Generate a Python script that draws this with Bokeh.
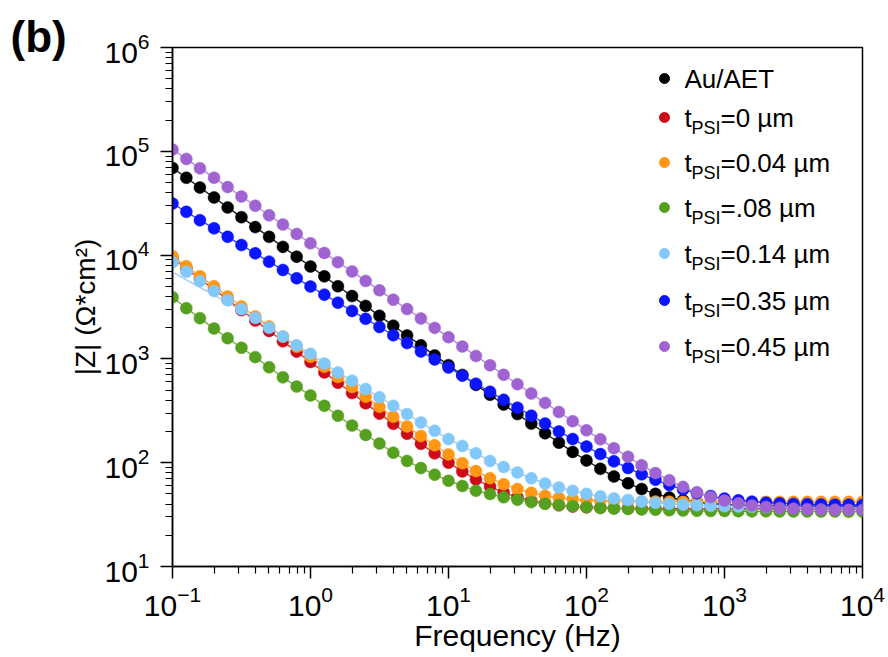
import math
from bokeh.plotting import figure
from bokeh.models import FixedTicker, LogTickFormatter, Label
from bokeh.embed import file_html
from bokeh.resources import INLINE

# ---------------- data ----------------
freq = [0.1, 0.126, 0.158, 0.2, 0.251, 0.316, 0.398, 0.501, 0.631, 0.794,
        1.0, 1.26, 1.58, 2.0, 2.51, 3.16, 3.98, 5.01, 6.31, 7.94,
        10.0, 12.6, 15.8, 20.0, 25.1, 31.6, 39.8, 50.1, 63.1, 79.4,
        100.0, 126.0, 158.0, 200.0, 251.0, 316.0, 398.0, 501.0, 631.0, 794.0,
        1000.0, 1260.0, 1580.0, 2000.0, 2510.0, 3160.0, 3980.0, 5010.0, 6310.0, 7940.0,
        10000.0]

z_au_aet = [69200, 55600, 44700, 35900, 28800, 23200, 18600, 15000, 12000, 9660,
            7760, 6240, 5010, 4030, 3240, 2600, 2090, 1680, 1350, 1080,
            871, 700, 562, 452, 363, 294, 238, 192, 156, 127,
            105, 87.3, 73.6, 63.4, 55.7, 50.1, 46.2, 43.5, 41.6, 40.4,
            39.5, 39.0, 38.7, 38.4, 38.3, 38.2, 38.1, 38.0, 38.0, 38.0, 38.0]

z_t000 = [9330, 7410, 5890, 4680, 3720, 2950, 2340, 1860, 1480, 1175,
          933, 741, 589, 469, 373, 297, 237, 190, 152, 123,
          100, 82.4, 69.0, 58.9, 51.6, 46.6, 43.0, 40.6, 38.9, 37.8,
          37.2, 36.8, 36.5, 36.3, 36.2, 36.1, 36.0, 36.0, 36.0, 36.0,
          36.0, 36.0, 36.0, 36.0, 36.0, 36.0, 36.0, 36.0, 36.0, 36.0, 36.0]

z_t004 = [9770, 7820, 6250, 5000, 4000, 3200, 2560, 2050, 1640, 1310,
          1047, 838, 670, 537, 431, 345, 277, 223, 181, 147,
          120, 99, 83, 71, 62, 55.7, 51.3, 48.1, 46.0, 44.6,
          43.7, 43.1, 42.7, 42.4, 42.3, 42.2, 42.1, 42.0, 42.0, 42.0,
          42.0, 42.0, 42.0, 42.0, 42.0, 42.0, 42.0, 42.0, 42.0, 42.0, 42.0]

z_t008 = [3930, 3080, 2470, 1960, 1585, 1280, 1040, 832, 664, 541,
          444, 353, 283, 228, 185, 153, 125, 104, 88.7, 76.7,
          67.0, 59.7, 53.7, 49.9, 46.5, 43.9, 41.7, 40.2, 39.2, 38.1,
          37.3, 36.7, 36.2, 35.8, 35.5, 35.2, 34.8, 34.6, 34.4, 34.3,
          34.2, 34.1, 34.0, 34.0, 33.9, 33.9, 33.8, 33.8, 33.8, 33.7, 33.7]

z_t014 = [8510, 6920, 5600, 4520, 3680, 3010, 2480, 1995, 1640, 1350,
          1120, 902, 741, 617, 513, 427, 353, 294, 244, 203,
          169, 145, 123, 104, 90.8, 80.4, 70.8, 63.1, 57.8, 53.7,
          50.1, 47.4, 45.3, 43.7, 42.3, 41.1, 40.2, 39.4, 38.9, 38.5,
          38.1, 37.8, 37.6, 37.4, 37.3, 37.2, 37.1, 37.0, 37.0, 36.9, 36.9]
# fitted curve for 0.14 um departs from the points at the lowest frequencies
z_t014_fit_low = [6840, 5780, 4880, 4120, 3480, 2940, 2480]

z_t035 = [31400, 26100, 21700, 18100, 15000, 12500, 10400, 8650, 7190, 5980,
          4980, 4160, 3480, 2900, 2430, 2030, 1690, 1420, 1180, 989,
          826, 690, 577, 482, 403, 339, 284, 238, 200, 169,
          143, 121, 103, 88.9, 77.3, 68.4, 61.0, 55.1, 50.9, 47.7,
          45.1, 43.4, 42.1, 41.2, 40.6, 40.1, 39.8, 39.5, 39.4, 39.3, 39.2]

z_t045 = [104000, 84500, 68500, 55700, 45200, 36700, 29900, 24200, 19700, 16000,
          13000, 10500, 8550, 6950, 5640, 4580, 3720, 3020, 2450, 1990,
          1620, 1315, 1067, 867, 703, 571, 464, 377, 308, 251,
          205, 168, 138, 114, 94.4, 79.4, 67.7, 58.5, 51.8, 46.7,
          43.2, 40.6, 38.7, 37.5, 36.7, 36.1, 35.7, 35.5, 35.3, 35.2, 35.1]

legend_main = ["Au/AET", "t", "t", "t", "t", "t", "t"]
legend_sub = ["", "PSI", "PSI", "PSI", "PSI", "PSI", "PSI"]
legend_tail = ["", "=0 µm", "=0.04 µm", "=.08 µm", "=0.14 µm", "=0.35 µm", "=0.45 µm"]

x_major = [0.1, 1, 10, 100, 1000, 10000]
y_major = [10, 100, 1000, 10000, 100000, 1000000]

# ---------------- styling ----------------
FONT = "Liberation Sans"
colors = ["#000000", "#cc0a1a", "#ff9614", "#55a01e", "#82c8fa", "#0a14ff", "#a064d2"]
line_colors = ["#222222", "#d23c3c", "#ffa83c", "#7ab248", "#aac8f0", "#3c46ff", "#b48cdc"]

FW, FH = 690, 519
p = figure(frame_width=FW, frame_height=FH,
           x_axis_type="log", y_axis_type="log",
           x_range=(0.1, 1e4), y_range=(10, 1e6),
           output_backend="svg", toolbar_location=None,
           min_border_left=172, min_border_right=26,
           min_border_top=47, min_border_bottom=91)
p.background_fill_color = "white"
p.border_fill_color = "white"
p.xgrid.visible = False
p.ygrid.visible = False
p.outline_line_color = "black"
p.outline_line_width = 1.5
p.outline_line_alpha = 1.0

# panel letter as the title, pulled left and down into the margin
p.title.text = "(b)"
p.title.text_font = FONT
p.title.text_font_size = "44px"
p.title.text_font_style = "bold"
p.title.text_color = "black"
p.title.align = "left"
p.title.vertical_align = "bottom"
p.title.offset = -162
p.title.standoff = -26

x_minor = [m * 10 ** e for e in range(-1, 4) for m in range(2, 10)]
y_minor = [m * 10 ** e for e in range(1, 6) for m in range(2, 10)]
p.xaxis.ticker = FixedTicker(ticks=x_major, minor_ticks=x_minor)
p.yaxis.ticker = FixedTicker(ticks=y_major, minor_ticks=y_minor)
p.xaxis.formatter = LogTickFormatter()
p.yaxis.formatter = LogTickFormatter()

for ax in (p.xaxis[0], p.yaxis[0]):
    ax.axis_line_width = 1.5
    ax.axis_line_color = "black"
    ax.major_tick_line_width = 1.5
    ax.minor_tick_line_width = 1.2
    ax.major_tick_out = 12
    ax.major_tick_in = 0
    ax.minor_tick_out = 7
    ax.minor_tick_in = 0
    ax.major_label_text_font = FONT
    ax.major_label_text_font_size = "30px"
    ax.major_label_text_color = "black"
    ax.axis_label_text_font = FONT
    ax.axis_label_text_font_style = "normal"
    ax.axis_label_text_color = "black"

p.xaxis.axis_label_text_font_size = "30px"
p.yaxis.axis_label_text_font_size = "28px"
p.xaxis.axis_label = "Frequency (Hz)"
p.yaxis.axis_label = "|Z| (Ω*cm²)"
p.xaxis.major_label_standoff = 7
p.yaxis.major_label_standoff = 11
p.xaxis.axis_label_standoff = 0
p.yaxis.axis_label_standoff = 0

series = [z_au_aet, z_t000, z_t004, z_t008, z_t014, z_t035, z_t045]
fits = [z_au_aet, z_t000, z_t004, z_t008, z_t014_fit_low + z_t014[len(z_t014_fit_low):], z_t035, z_t045]

for vals, fit, c, lc in zip(series, fits, colors, line_colors):
    p.line(freq, fit, line_color=lc, line_width=1.4)
    p.scatter(freq, vals, size=12, fill_color=c, line_color=c, line_width=0.5)

# ---------------- legend (drawn by hand to allow subscripts) ----------------
leg_x_px = 492                       # from frame left
leg_rows_px = [31, 70, 115, 160, 206, 253, 299]   # from frame top
lx = 10 ** (-1 + 5 * leg_x_px / FW)
for i, row in enumerate(leg_rows_px):
    ly = 10 ** (6 - 5 * row / FH)
    p.scatter([lx], [ly], size=10, fill_color=colors[i], line_color=colors[i])
    p.add_layout(Label(x=lx, y=ly, x_offset=20, y_offset=0, text=legend_main[i],
                       text_font=FONT, text_font_size="26px", text_baseline="middle",
                       text_color="black"))
    if legend_sub[i]:
        p.add_layout(Label(x=lx, y=ly, x_offset=27, y_offset=-10, text=legend_sub[i],
                           text_font=FONT, text_font_size="18px", text_baseline="middle",
                           text_color="black"))
        p.add_layout(Label(x=lx, y=ly, x_offset=56, y_offset=0, text=legend_tail[i],
                           text_font=FONT, text_font_size="26px", text_baseline="middle",
                           text_color="black"))

open("out.html", "w").write(file_html(p, INLINE))
